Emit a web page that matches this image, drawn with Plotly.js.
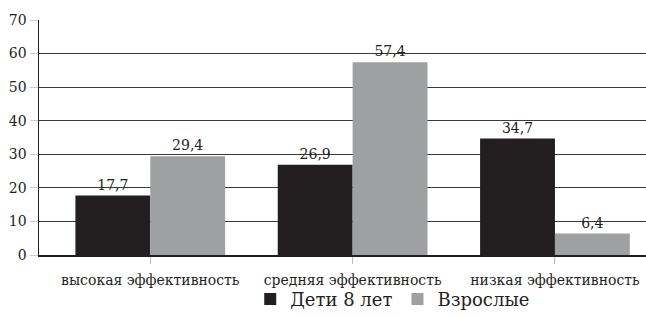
<!DOCTYPE html>
<html>
<head>
<meta charset="utf-8">
<script src="https://cdn.plot.ly/plotly-3.0.1.min.js"></script>
<style>html,body{margin:0;padding:0;background:#fff;}#chart{width:646px;height:318px;}</style>
</head>
<body>
<div id="chart"></div>
<script>
var categories = ["высокая эффективность", "средняя эффективность", "низкая эффективность"];
var seriesNames = ["Дети 8 лет", "Взрослые"];
var children = [17.7, 26.9, 34.7];
var adults = [29.4, 57.4, 6.4];
var yTicks = [0, 10, 20, 30, 40, 50, 60, 70];

var serif = "DejaVu Serif";

var traces = [
  {
    type: "bar", name: seriesNames[0], x: categories, y: children,
    marker: {color: "#231f20"},
    texttemplate: "%{y:.1f}", textposition: "outside", cliponaxis: false,
    textfont: {family: serif, size: 14, color: "#231f20"}
  },
  {
    type: "bar", name: seriesNames[1], x: categories, y: adults,
    marker: {color: "#9fa0a1"},
    texttemplate: "%{y:.1f}", textposition: "outside", cliponaxis: false,
    textfont: {family: serif, size: 14, color: "#231f20"}
  }
];

var layout = {
  width: 646, height: 318,
  margin: {l: 39, r: 0, t: 20, b: 60},
  paper_bgcolor: "#fff", plot_bgcolor: "#fff",
  separators: ", ",
  barmode: "group", bargap: 0.26, bargroupgap: 0,
  font: {family: serif, color: "#231f20"},
  showlegend: true,
  legend: {
    orientation: "h", x: 0.348, xanchor: "left", y: -0.188, yanchor: "middle",
    bgcolor: "rgba(0,0,0,0)",
    font: {family: serif, size: 18, color: "#231f20"},
    traceorder: "normal"
  },
  xaxis: {
    type: "category", range: [-0.55, 2.45], automargin: false,
    showline: true, linecolor: "#231f20", linewidth: 1.5,
    ticks: "outside", ticklen: 7, tickcolor: "#bbbbbb", tickwidth: 1,
    ticklabelstandoff: 5,
    showgrid: false, zeroline: false,
    tickfont: {family: serif, size: 14, color: "#231f20"}
  },
  yaxis: {
    range: [0, 70], tickvals: yTicks, automargin: false,
    showline: true, linecolor: "#231f20", linewidth: 1.5,
    ticks: "outside", ticklen: 8, tickcolor: "#cccccc", tickwidth: 1,
    showgrid: true, gridcolor: "#3a3a3a", gridwidth: 1,
    zeroline: false,
    tickfont: {family: serif, size: 14, color: "#231f20"}
  }
};

Plotly.newPlot("chart", traces, layout, {displayModeBar: false, staticPlot: true});
</script>
</body>
</html>
